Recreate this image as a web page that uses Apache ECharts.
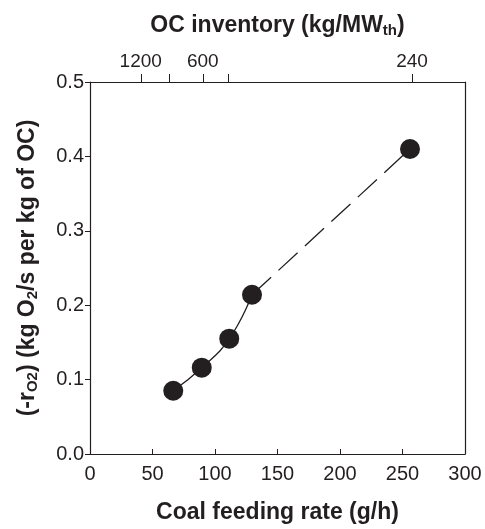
<!DOCTYPE html>
<html>
<head>
<meta charset="utf-8">
<script src="https://cdn.jsdelivr.net/npm/echarts@6/dist/echarts.min.js"></script>
<style>
    html, body { margin: 0; padding: 0; background: #fff; }
    #chart1 { width: 485px; height: 529px; }
</style>
</head>
<body>
<div id="chart1"></div>
<script>
    // measured points: coal feeding rate (g/h) vs (-rO2)
    var coalRate = [66.6, 89.4, 111.4, 129.6, 256];
    var rateO2 = [0.085, 0.116, 0.155, 0.214, 0.41];
    // top axis (OC inventory) ticks, placed on the coal feeding rate scale
    var topTickPos = [40.6, 63.4, 90.2, 110.6, 257.6];
    var topTickLabels = ['1200', '', '600', '', '240'];

    var ink = '#231f20';
    var font = 'Liberation Sans, Arial, sans-serif';

    var pts = coalRate.map(function (x, i) { return [x, rateO2[i]]; });
    var solidPart = pts.slice(0, 4);
    var dashPart = pts.slice(3);

    var chart1 = echarts.init(document.getElementById('chart1'));

    var titleRich = {
        t: {color: ink, fontFamily: font, fontSize: 23, fontWeight: 'bold'},
        s: {color: ink, fontFamily: font, fontSize: 15, fontWeight: 'bold', padding: [10, 0, 0, 0]}
    };

    var option = {
        animation: false,
        grid: {left: 90, right: 20, top: 82, bottom: 72},
        xAxis: [
            {
                type: 'value',
                position: 'bottom',
                min: 0,
                max: 300,
                interval: 50,
                name: 'Coal feeding rate (g/h)',
                nameLocation: 'middle',
                nameGap: 47,
                nameTextStyle: {color: ink, fontFamily: font, fontSize: 23, fontWeight: 'bold'},
                axisLine: {onZero: false, lineStyle: {color: ink, width: 1.2}},
                axisTick: {inside: true, length: 5, lineStyle: {color: ink}},
                axisLabel: {color: ink, fontFamily: font, fontSize: 20, margin: 10},
                splitLine: {show: false}
            },
            {
                type: 'value',
                position: 'top',
                min: 0,
                max: 300,
                name: '{t|OC inventory (kg/MW}{s|th}{t|)}',
                nameLocation: 'middle',
                nameGap: 44,
                nameTextStyle: {rich: titleRich},
                axisLine: {onZero: false, lineStyle: {color: ink, width: 1.2}},
                axisTick: {customValues: topTickPos, length: 8, lineStyle: {color: ink}},
                axisLabel: {
                    customValues: topTickPos,
                    color: ink, fontFamily: font, fontSize: 19, margin: 11,
                    formatter: function (v) {
                        var i = topTickPos.indexOf(v);
                        return i >= 0 ? topTickLabels[i] : '';
                    }
                },
                splitLine: {show: false}
            }
        ],
        yAxis: [
            {
                type: 'value',
                min: 0,
                max: 0.5,
                interval: 0.1,
                name: '{t|(-r}{s|O2}{t|) (kg O}{s|2}{t|/s per kg of OC)}',
                nameLocation: 'middle',
                nameRotate: 90,
                nameGap: 50,
                nameTextStyle: {rich: titleRich},
                axisLine: {onZero: false, lineStyle: {color: ink, width: 1.2}},
                axisTick: {length: 5, lineStyle: {color: ink}},
                axisLabel: {color: ink, fontFamily: font, fontSize: 20, margin: 6,
                    formatter: function (v) { return v.toFixed(1); }},
                splitLine: {show: false}
            },
            {
                type: 'value',
                position: 'right',
                min: 0,
                max: 0.5,
                axisLine: {show: true, onZero: false, lineStyle: {color: ink, width: 1.2}},
                axisTick: {show: false},
                axisLabel: {show: false},
                splitLine: {show: false}
            }
        ],
        series: [
            {
                type: 'line',
                data: solidPart,
                smooth: 0.5,
                showSymbol: false,
                lineStyle: {color: ink, width: 1.3}
            },
            {
                type: 'line',
                data: dashPart,
                showSymbol: false,
                lineStyle: {color: ink, width: 1.3, type: [26, 10]}
            },
            {
                type: 'scatter',
                data: pts,
                symbolSize: 20,
                itemStyle: {color: ink, opacity: 1},
                z: 5
            }
        ]
    };

    chart1.setOption(option);
</script>
</body>
</html>
